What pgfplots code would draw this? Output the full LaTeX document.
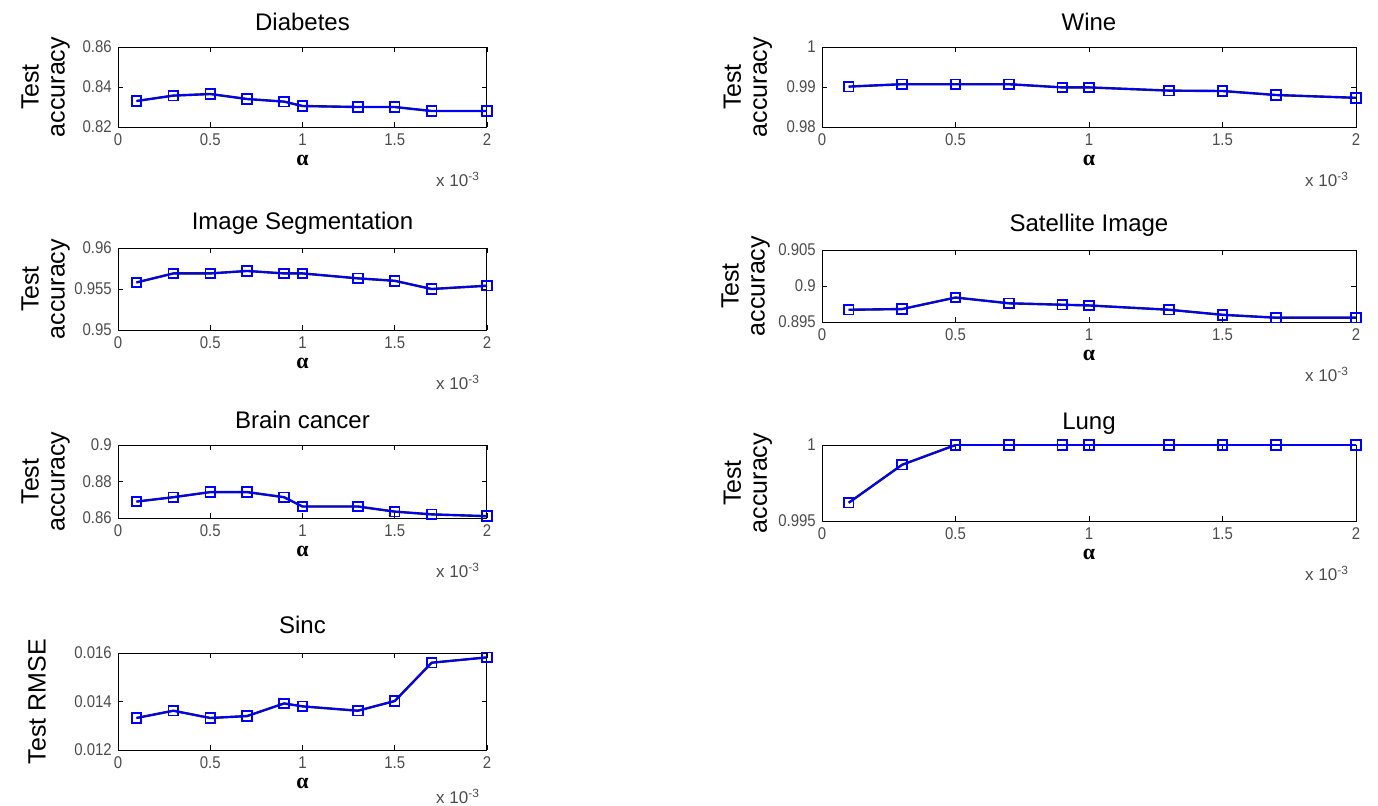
\documentclass[border=0pt]{standalone}
\usepackage{pgfplots}
\pgfplotsset{compat=1.18}
\usepackage{fontspec}
\setmainfont{Liberation Sans}
\newfontfamily\serif{Liberation Serif}

\pgfplotsset{
  mstyle/.style={
    scale only axis, clip=false,
    xmin=0, xmax=2,
    xtick={0,0.5,1,1.5,2}, xticklabels={0,0.5,1,1.5,2},
    scaled y ticks=false, scaled x ticks=false,
    tick label style={font=\fontsize{8.5}{9}\selectfont, color=black!70, xscale=0.88},
    /pgf/number format/assume math mode=true,
    title style={font=\fontsize{12}{13}\selectfont, at={(axis description cs:0.5,1)}, anchor=center, yshift=6.5pt},
    ylabel style={font=\fontsize{12.5}{13}\selectfont, align=center, at={(axis description cs:0,0.5)}, anchor=south, yshift=20.5pt},
    xlabel={\serif\bfseries α},
    xlabel style={font=\fontsize{11}{12}\selectfont, at={(axis description cs:0.5,0)}, anchor=center, yshift=-16.5pt},
    major tick length=2.5pt,
    axis line style={black, line width=0.5pt},
    every tick/.style={black, line width=0.4pt},
    ylabel={Test\\accuracy},
  },
  bl/.style={black!85, line width=1.2pt},
  bu/.style={blue, line width=0.9pt, mark=square, mark size=2.4pt, mark options={solid, line width=0.9pt}},
}
\newcommand{\xscale}[1][19pt]{\node[anchor=north east, font=\fontsize{8.5}{9}\selectfont, color=black!70, yshift=-#1] at (rel axis cs:1,0) {x 10\textsuperscript{-3}};}

\begin{document}
\begin{tikzpicture}
\useasboundingbox (0,0) rectangle (689pt,-402.5pt);

% Diabetes
\begin{axis}[mstyle, at={(59pt,-23.5pt)}, anchor=north west, width=184.5pt, height=40pt,
  title={Diabetes}, ymin=0.82, ymax=0.86, ytick={0.82,0.84,0.86}, yticklabels={0.82,0.84,0.86}]
\addplot[bl] coordinates {(0.1,0.8330) (0.3,0.8357) (0.5,0.8365) (0.7,0.8340) (0.9,0.8327) (1.0,0.8305) (1.3,0.8300) (1.5,0.8300) (1.7,0.8280) (2.0,0.8280)};
\addplot[bu] coordinates {(0.1,0.8330) (0.3,0.8357) (0.5,0.8365) (0.7,0.8340) (0.9,0.8327) (1.0,0.8305) (1.3,0.8300) (1.5,0.8300) (1.7,0.8280) (2.0,0.8280)};
\xscale
\end{axis}

% Wine
\begin{axis}[mstyle, at={(411pt,-23.5pt)}, anchor=north west, width=267pt, height=40pt,
  title={Wine}, ymin=0.98, ymax=1, ytick={0.98,0.99,1}, yticklabels={0.98,0.99,1},
  ylabel style={yshift=1pt}]
\addplot[bl] coordinates {(0.1,0.9901) (0.3,0.9907) (0.5,0.9907) (0.7,0.9907) (0.9,0.9899) (1.0,0.9899) (1.3,0.9891) (1.5,0.9890) (1.7,0.9880) (2.0,0.9873)};
\addplot[bu] coordinates {(0.1,0.9901) (0.3,0.9907) (0.5,0.9907) (0.7,0.9907) (0.9,0.9899) (1.0,0.9899) (1.3,0.9891) (1.5,0.9890) (1.7,0.9880) (2.0,0.9873)};
\xscale
\end{axis}

% Image Segmentation
\begin{axis}[mstyle, at={(59pt,-124pt)}, anchor=north west, width=184.5pt, height=41pt,
  title={Image Segmentation}, ymin=0.95, ymax=0.96, ytick={0.95,0.955,0.96}, yticklabels={0.95,0.955,0.96}]
\addplot[bl] coordinates {(0.1,0.9558) (0.3,0.9569) (0.5,0.9569) (0.7,0.9572) (0.9,0.9569) (1.0,0.9569) (1.3,0.9563) (1.5,0.9560) (1.7,0.9550) (2.0,0.9554)};
\addplot[bu] coordinates {(0.1,0.9558) (0.3,0.9569) (0.5,0.9569) (0.7,0.9572) (0.9,0.9569) (1.0,0.9569) (1.3,0.9563) (1.5,0.9560) (1.7,0.9550) (2.0,0.9554)};
\xscale
\end{axis}

% Satellite Image
\begin{axis}[mstyle, at={(411pt,-125pt)}, anchor=north west, width=267pt, height=36pt,
  title={Satellite Image}, ymin=0.895, ymax=0.905, ytick={0.895,0.9,0.905}, yticklabels={0.895,0.9,0.905},
  ylabel style={yshift=2pt}]
\addplot[bl] coordinates {(0.1,0.8967) (0.3,0.8968) (0.5,0.8984) (0.7,0.8976) (0.9,0.8974) (1.0,0.8973) (1.3,0.8967) (1.5,0.8960) (1.7,0.8956) (2.0,0.8956)};
\addplot[bu] coordinates {(0.1,0.8967) (0.3,0.8968) (0.5,0.8984) (0.7,0.8976) (0.9,0.8974) (1.0,0.8973) (1.3,0.8967) (1.5,0.8960) (1.7,0.8956) (2.0,0.8956)};
\xscale
\end{axis}

% Brain cancer
\begin{axis}[mstyle, at={(59pt,-222.5pt)}, anchor=north west, width=184.5pt, height=36.5pt,
  title={Brain cancer}, ymin=0.86, ymax=0.9, ytick={0.86,0.88,0.9}, yticklabels={0.86,0.88,0.9}]
\addplot[bl] coordinates {(0.1,0.8690) (0.3,0.8714) (0.5,0.8742) (0.7,0.8742) (0.9,0.8714) (1.0,0.8663) (1.3,0.8663) (1.5,0.8635) (1.7,0.8620) (2.0,0.8610)};
\addplot[bu] coordinates {(0.1,0.8690) (0.3,0.8714) (0.5,0.8742) (0.7,0.8742) (0.9,0.8714) (1.0,0.8663) (1.3,0.8663) (1.5,0.8635) (1.7,0.8620) (2.0,0.8610)};
\xscale
\end{axis}

% Lung
\begin{axis}[mstyle, at={(411pt,-222.5pt)}, anchor=north west, width=267pt, height=38pt,
  title={Lung}, ymin=0.995, ymax=1, ytick={0.995,1}, yticklabels={0.995,1},
  title style={yshift=-2pt}, ylabel style={yshift=1pt}]
\addplot[bl] coordinates {(0.1,0.9962) (0.3,0.9987) (0.5,1)};
\addplot[bu] coordinates {(0.1,0.9962) (0.3,0.9987) (0.5,1) (0.7,1) (0.9,1) (1.0,1) (1.3,1) (1.5,1) (1.7,1) (2.0,1)};
\xscale
\end{axis}

% Sinc
\begin{axis}[mstyle, at={(59pt,-326.5pt)}, anchor=north west, width=184.5pt, height=48.5pt,
  title={Sinc}, ymin=0.012, ymax=0.016, ytick={0.012,0.014,0.016}, yticklabels={0.012,0.014,0.016},
  ylabel={Test RMSE}, ylabel style={yshift=12pt}, title style={yshift=1.5pt}]
\addplot[bl] coordinates {(0.1,0.01332) (0.3,0.01362) (0.5,0.01332) (0.7,0.01340) (0.9,0.01392) (1.0,0.01380) (1.3,0.01362) (1.5,0.01402) (1.7,0.01560) (2.0,0.01582)};
\addplot[bu] coordinates {(0.1,0.01332) (0.3,0.01362) (0.5,0.01332) (0.7,0.01340) (0.9,0.01392) (1.0,0.01380) (1.3,0.01362) (1.5,0.01402) (1.7,0.01560) (2.0,0.01582)};
\xscale[16pt]
\end{axis}
\end{tikzpicture}
\end{document}
